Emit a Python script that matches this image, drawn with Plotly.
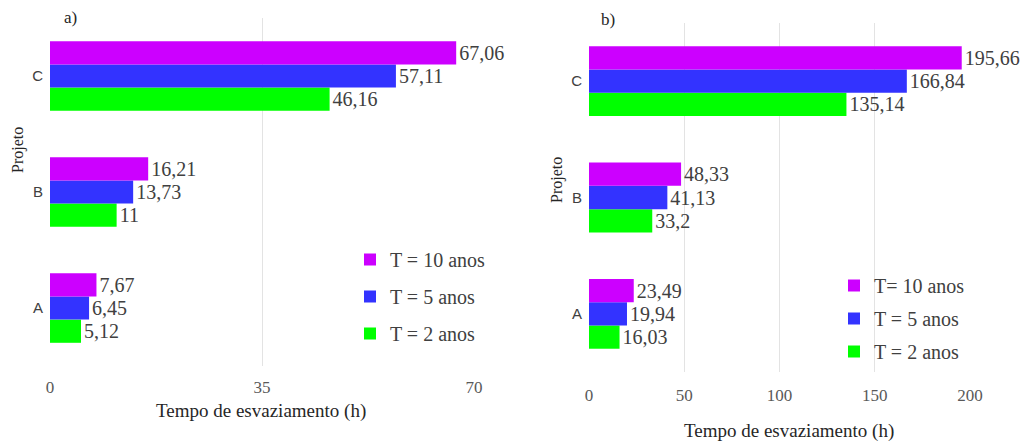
import plotly.graph_objects as go

projects = ["A", "B", "C"]
series_names_a = ["T = 2 anos", "T = 5 anos", "T = 10 anos"]
series_names_b = ["T = 2 anos", "T = 5 anos", "T= 10 anos"]
colors = ["#00FF00", "#3333FF", "#CC00FF"]

# panel a) values per project A, B, C
a_t2 = [5.12, 11.0, 46.16]
a_t5 = [6.45, 13.73, 57.11]
a_t10 = [7.67, 16.21, 67.06]

# panel b)
b_t2 = [16.03, 33.2, 135.14]
b_t5 = [19.94, 41.13, 166.84]
b_t10 = [23.49, 48.33, 195.66]

W, H = 1032, 442
def px(x): return x / W
def py(y): return 1 - y / H

def fmt(v):
    return f"{v:g}".replace(".", ",")

SERIF = "Liberation Serif, Times New Roman, serif"
SANS = "Liberation Sans, Arial, sans-serif"

fig = go.Figure()

for i, (vals, name) in enumerate(zip([a_t2, a_t5, a_t10], series_names_a)):
    fig.add_trace(go.Bar(
        y=projects, x=vals, orientation="h", name=name,
        marker=dict(color=colors[i], line=dict(width=0)),
        text=[fmt(v) for v in vals], textposition="outside",
        textfont=dict(family=SERIF, size=20, color="#404040"),
        constraintext="none", cliponaxis=False,
        xaxis="x", yaxis="y", legend="legend", legendgroup=f"a{i}",
        legendrank=3 - i,
    ))

for i, (vals, name) in enumerate(zip([b_t2, b_t5, b_t10], series_names_b)):
    fig.add_trace(go.Bar(
        y=projects, x=vals, orientation="h", name=name,
        marker=dict(color=colors[i], line=dict(width=0)),
        text=[fmt(v) for v in vals], textposition="outside",
        textfont=dict(family=SERIF, size=20, color="#404040"),
        constraintext="none", cliponaxis=False,
        xaxis="x2", yaxis="y2", legend="legend2", legendgroup=f"b{i}",
        legendrank=3 - i,
    ))

xcommon = dict(showgrid=True, gridcolor="#E3E3E3", gridwidth=1, zeroline=False,
               showline=False, ticks="", automargin=False,
               tickfont=dict(family=SERIF, size=17, color="#595959"))
ycommon = dict(showgrid=False, zeroline=False, showline=False, ticks="",
               categoryorder="array", categoryarray=projects, automargin=False,
               range=[-0.5, 2.5], ticklabelstandoff=6,
               tickfont=dict(family=SANS, size=15, color="#404040"))

legcommon = dict(font=dict(family=SERIF, size=20, color="#404040"),
                 traceorder="grouped", bgcolor="rgba(0,0,0,0)",
                 xanchor="left", yanchor="top", itemclick=False)

fig.update_layout(
    width=W, height=H,
    margin=dict(l=0, r=0, t=0, b=0),
    paper_bgcolor="white", plot_bgcolor="white",
    barmode="group", bargap=0.4, bargroupgap=0,
    xaxis=dict(domain=[px(50), px(474)], range=[0, 70], tickvals=[0, 35, 70],
               anchor="y", ticklabelstandoff=9, **xcommon),
    yaxis=dict(domain=[py(366), py(18)], anchor="x", **ycommon),
    xaxis2=dict(domain=[px(589), px(970)], range=[0, 200],
                tickvals=[0, 50, 100, 150, 200], anchor="y2", ticklabelstandoff=11,
                **xcommon),
    yaxis2=dict(domain=[py(372), py(23)], anchor="x2", **ycommon),
    legend=dict(x=px(350), y=py(240), tracegroupgap=8, **legcommon),
    legend2=dict(x=px(834), y=py(266), tracegroupgap=4, **legcommon),
    showlegend=True,
)

ann_font = dict(family=SERIF, size=17, color="#262626")
fig.add_annotation(x=px(62), y=py(18), xref="paper", yref="paper", text="a)",
                   showarrow=False, xanchor="left", yanchor="middle", font=ann_font)
fig.add_annotation(x=px(599), y=py(20), xref="paper", yref="paper", text="b)",
                   showarrow=False, xanchor="left", yanchor="middle", font=ann_font)
for xc, yc in [(18, 150), (557, 180)]:
    fig.add_annotation(x=px(xc), y=py(yc), xref="paper", yref="paper", text="Projeto",
                       showarrow=False, textangle=-90, xanchor="center", yanchor="middle",
                       font=dict(family=SERIF, size=16, color="#262626"))
for xc, yc in [(261, 411), (789, 431)]:
    fig.add_annotation(x=px(xc), y=py(yc), xref="paper", yref="paper",
                       text="Tempo de esvaziamento (h)", showarrow=False,
                       xanchor="center", yanchor="middle",
                       font=dict(family=SERIF, size=19, color="#262626"))

fig.write_html("out.html", config={"displayModeBar": False},
               post_script="document.body.style.margin='0';")
